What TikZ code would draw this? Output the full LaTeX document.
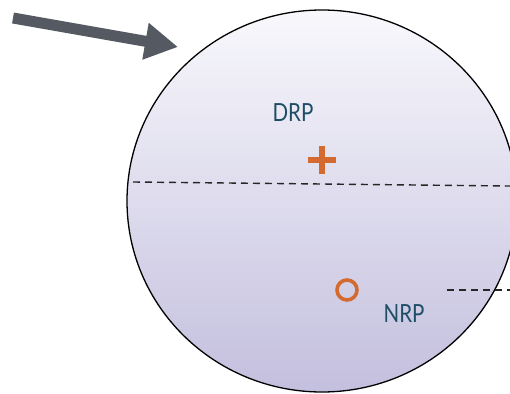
\documentclass[tikz,border=0pt]{standalone}
\usepackage{fontspec}
\setmainfont{Lato}[FakeStretch=0.82]
\usetikzlibrary{arrows.meta,shapes.geometric}
\definecolor{txtblue}{HTML}{1E4D66}
\definecolor{mkorange}{HTML}{D46A30}
\definecolor{arrowgray}{HTML}{555961}
\definecolor{topfill}{HTML}{F8F8FC}
\definecolor{botfill}{HTML}{C3BFDE}
\tikzset{
  lbl/.style={text=txtblue, font=\fontsize{25}{25}\selectfont, inner sep=0pt},
  dashline/.style={line width=1.4pt, dash pattern=on 7pt off 5pt, black!85},
  marker/.style={line width=5.5pt, mkorange},
}
\begin{document}
\begin{tikzpicture}[x=1pt,y=-1pt]
\useasboundingbox (0,0) rectangle (510,393);
% globe
\begin{scope}
\clip (0,0) rectangle (510,393);
\node[ellipse, draw=black, line width=1.3pt, minimum width=390pt, minimum height=382pt, inner sep=0pt,
      top color=topfill, bottom color=botfill] (globe) at (322,201) {};
\end{scope}
% dashed lines
\coordinate (d1a) at (133,182);
\coordinate (d1b) at (510,186);
\draw[dashline] (d1a) -- (d1b);
\coordinate (d2a) at (447,290);
\coordinate (d2b) at (510,290);
\draw[dashline] (d2a) -- (d2b);
% labels
\node[lbl] (drp) at (293,112.5) {DRP};
\node[lbl] (nrp) at (404,314) {NRP};
% plus marker
\coordinate (plusc) at (322,160);
\draw[marker] ([xshift=-14pt]plusc) -- ([xshift=14pt]plusc);
\draw[marker] ([yshift=-14pt]plusc) -- ([yshift=14pt]plusc);
% ring marker
\node[circle, draw=mkorange, line width=3.6pt, minimum size=20pt, inner sep=0pt] (ring) at (347,290) {};
% arrow
\coordinate (atail) at (13,18);
\coordinate (atip) at (178,47);
\draw[arrowgray, line width=11pt, -{Triangle[length=33pt, width=35pt]}] (atail) -- (atip);
\end{tikzpicture}
\end{document}
